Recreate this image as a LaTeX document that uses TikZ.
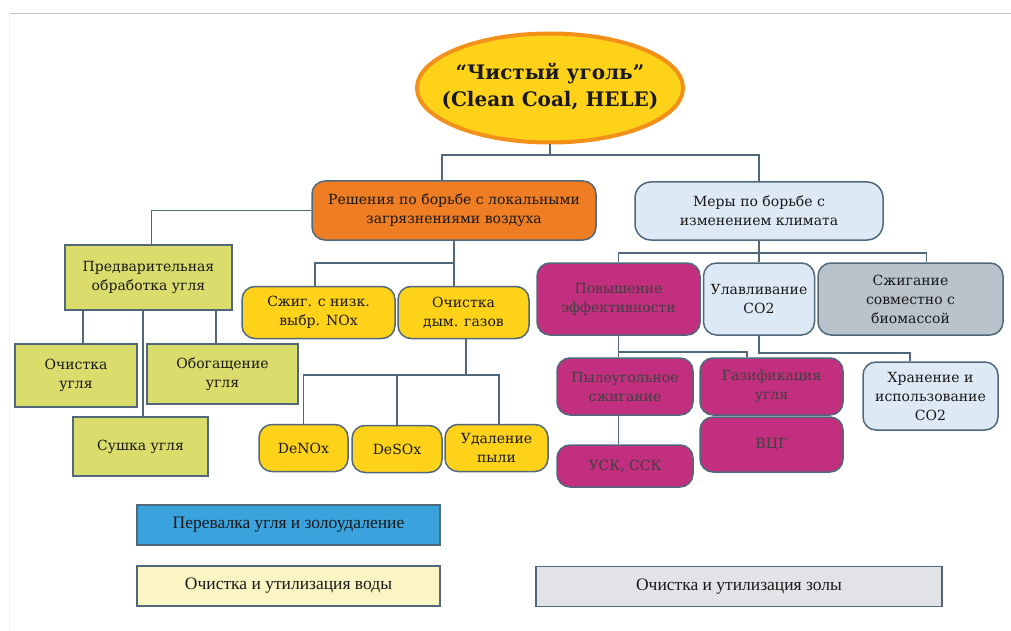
\documentclass[tikz,border=0pt]{standalone}
\usepackage{fontspec}
\setmainfont{DejaVu Serif}
\newfontfamily\keyfont{Liberation Serif}
\usetikzlibrary{shapes.geometric}
\definecolor{coalgold}{HTML}{FFD21A}
\definecolor{coalorange}{HTML}{EE7D23}
\definecolor{rimorange}{HTML}{F39019}
\definecolor{skypale}{HTML}{DDE9F4}
\definecolor{olivebox}{HTML}{DADC6C}
\definecolor{berry}{HTML}{C22F7F}
\definecolor{slatebox}{HTML}{B9C3CB}
\definecolor{edge}{HTML}{50687A}
\definecolor{bluebar}{HTML}{3AA2DC}
\definecolor{creambar}{HTML}{FAF5C2}
\definecolor{greybar}{HTML}{E1E3E7}
\tikzset{
  crown/.style  = {ellipse, draw=rimorange, line width=4pt, fill=coalgold, minimum width=266, minimum height=109, inner sep=0pt, font=\fontsize{20}{27}\selectfont\bfseries, text=black!90},
  rbox/.style   = {rectangle, rounded corners=13pt, draw=edge, line width=1.5pt, align=center, inner sep=2pt, font=\fontsize{14}{19}\selectfont, text=black!90},
  sbox/.style   = {rectangle, draw=edge, line width=1.5pt, fill=olivebox, align=center, inner sep=2pt, font=\fontsize{14}{19}\selectfont, text=black!90},
  keybar/.style = {rectangle, draw=edge, line width=1.3pt, minimum height=40, font=\keyfont\fontsize{17.5}{20}\selectfont, text=black!90},
  link/.style   = {draw=edge, line width=1.6pt}
}
\begin{document}
\begin{tikzpicture}[x=1pt, y=-1pt]
  \useasboundingbox (0,0) rectangle (1011,631);
  \draw[gray!45, line width=1.2pt] (9,13.5) -- (1011,13.5);
  \draw[gray!12, line width=1pt] (9,13.5) -- (9,631);

  \node[crown] (root) at (550,88) {\makebox[0pt]{\begin{tabular}{@{}c@{}}“Чистый уголь”\\(Clean Coal, HELE)\end{tabular}}};

  \node[rbox, fill=coalorange, minimum width=284, minimum height=59] (air) at (454,210.5) {Решения по борьбе с локальными\\загрязнениями воздуха};
  \node[rbox, fill=skypale, rounded corners=16pt, minimum width=248, minimum height=58] (clim) at (759,211) {Меры по борьбе с\\изменением климата};

  \node[sbox, minimum width=167, minimum height=65] (pre) at (148.5,277.5) {Предварительная\\обработка угля};
  \node[sbox, minimum width=122, minimum height=63] (clean) at (76,375.5) {Очистка\\угля};
  \node[sbox, minimum width=151, minimum height=60] (enrich) at (222.5,374) {Обогащение\\угля};
  \node[sbox, minimum width=135, minimum height=59] (dry) at (140.5,446.5) {Сушка угля};

  \node[rbox, fill=coalgold, minimum width=153, minimum height=52] (lownox) at (318.5,312.5) {Сжиг. с низк.\\выбр. NOx};
  \node[rbox, fill=coalgold, minimum width=131, minimum height=52] (flue) at (463.5,312.5) {Очистка\\дым. газов};
  \node[rbox, fill=coalgold, minimum width=89, minimum height=47] (denox) at (303.5,448) {DeNOx};
  \node[rbox, fill=coalgold, minimum width=90, minimum height=47] (desox) at (397,449) {DeSOx};
  \node[rbox, fill=coalgold, minimum width=103, minimum height=47] (dust) at (496.5,448) {Удаление\\пыли};

  \node[rbox, fill=berry, text=black!75, minimum width=163, minimum height=72] (eff) at (618.5,299) {Повышение\\эффективности};
  \node[rbox, fill=skypale, minimum width=111, minimum height=72] (ccs) at (759,299) {Улавливание\\CO2};
  \node[rbox, fill=slatebox, minimum width=185, minimum height=72] (bio) at (910.5,299) {Сжигание\\совместно с\\биомассой};
  \node[rbox, fill=berry, text=black!75, minimum width=136, minimum height=57] (pc) at (625,386.5) {Пылеугольное\\сжигание};
  \node[rbox, fill=berry, text=black!75, minimum width=143, minimum height=57] (gas) at (771.5,386.5) {Газификация\\угля};
  \node[rbox, fill=berry, text=black!75, minimum width=143, minimum height=55] (igcc) at (771.5,444.5) {ВЦГ};
  \node[rbox, fill=berry, text=black!75, minimum width=136, minimum height=42] (usc) at (625,466) {УСК, ССК};
  \node[rbox, fill=skypale, minimum width=135, minimum height=68] (store) at (930.5,396) {Хранение и\\использование\\CO2};

  \node[keybar, fill=bluebar, minimum width=303] (handling) at (288.5,525) {Перевалка угля и золоудаление};
  \node[keybar, fill=creambar, minimum width=303] (water) at (288.5,586) {Очистка и утилизация воды};
  \node[keybar, fill=greybar, minimum width=406] (ash) at (739,586.5) {Очистка и утилизация золы};

  \draw[link] (root.south) -- ++(0,10.5) coordinate (rb) -| ([xshift=-12]air.north) (rb) -| (clim.north);
  \draw[link] (air.west) -| ([xshift=3]pre.north);
  \draw[link] ([xshift=7]clean.north) -- ++(0,-34);
  \draw[link] ([xshift=2.5]dry.north) -- ++(0,-107);
  \draw[link] ([xshift=-6.5]enrich.north) -- ++(0,-34);
  \draw[link] (air.south) -- (air.south |- flue.north) (air.south) ++(0,22) -| ([xshift=-3.5]lownox.north);
  \draw[link] ([xshift=2.5]flue.south) -- ++(0,35.5) coordinate (fb) -| (denox.north) (fb) -| ([xshift=2.5]dust.north) (fb -| desox.north) -- (desox.north);
  \draw[link] (clim.south) -- ++(0,12) coordinate (cb) -| (eff.north) (cb) -| ([xshift=16]bio.north) (cb) -- (ccs.north);
  \draw[link] (eff.south) -- (eff.south |- pc.north) (eff.south) ++(0,16) -| ([xshift=-24.5]gas.north);
  \draw[link] ([xshift=-6.5]pc.south) -- ([xshift=-6.5]usc.north);
  \draw[link] (ccs.south) -- ++(0,17) -| ([xshift=-20.5]store.north);
\end{tikzpicture}
\end{document}
